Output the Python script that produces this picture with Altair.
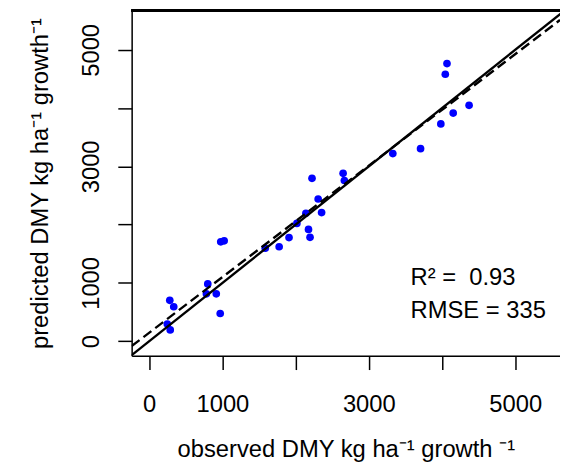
import altair as alt
import pandas as pd

# observed vs predicted dry matter yield (kg ha-1 growth-1)
observed = [247, 287, 281, 335, 781, 916, 800, 970, 977, 1024,
            1585, 1775, 1910, 2017, 2140, 2176, 2197, 2224, 2308, 2355,
            2649, 2666, 3328, 3707, 3984, 4153, 4370, 4045, 4068]
predicted = [294, 192, 701, 591, 812, 812, 982, 474, 1704, 1721,
             1595, 1620, 1778, 2021, 2195, 1918, 1782, 2795, 2440, 2207,
             2880, 2757, 3219, 3304, 3728, 3915, 4048, 4581, 4764]

tick_values = [0, 1000, 2000, 3000, 4000, 5000]
one_to_one = [-300, 6000]
stats_text = ["R\u00b2 =\u00a0 0.93", "RMSE = 335"]

X_DOMAIN = [-240, 5612]
Y_DOMAIN = [-250, 5676]
W, H = 433, 349
FONT = "Liberation Sans"

pts = pd.DataFrame({"obs": observed, "pred": predicted})
ident = pd.DataFrame({"obs": one_to_one, "pred": one_to_one})
ann = pd.DataFrame({"t": stats_text, "x": [3571, 3571], "y": [1091, 514]})

hide = "datum.value == 2000 || datum.value == 4000 ? '' : format(datum.value, 'd')"

xscale = alt.Scale(domain=X_DOMAIN, nice=False, zero=False)
yscale = alt.Scale(domain=Y_DOMAIN, nice=False, zero=False)

xaxis = alt.Axis(values=tick_values, labelExpr=hide, format="d", grid=False,
                 title="observed DMY kg ha\u207b\u00b9 growth \u207b\u00b9",
                 tickSize=14, tickWidth=1.5, tickColor="black",
                 domainColor="black", domainWidth=1.5,
                 labelFontSize=24, labelFont=FONT, labelColor="black", labelPadding=23,
                 titleFontSize=24, titleFont=FONT, titleColor="black",
                 titleFontWeight="normal", titlePadding=22)
yaxis = alt.Axis(values=tick_values, labelExpr=hide, format="d", grid=False,
                 title="predicted DMY kg ha\u207b\u00b9 growth\u207b\u00b9",
                 tickSize=14, tickWidth=1.5, tickColor="black",
                 domainColor="black", domainWidth=1.5,
                 labelAngle=270, labelAlign="center", labelBaseline="bottom",
                 labelFontSize=24, labelFont=FONT, labelColor="black", labelPadding=15,
                 titleFontSize=24, titleFont=FONT, titleColor="black",
                 titleFontWeight="normal", titlePadding=27)

points = alt.Chart(pts).mark_circle(size=60, color="#0000ff", opacity=1).encode(
    x=alt.X("obs:Q", scale=xscale, axis=xaxis),
    y=alt.Y("pred:Q", scale=yscale, axis=yaxis),
)

line11 = alt.Chart(ident).mark_line(color="black", strokeWidth=2.4, clip=True).encode(
    x=alt.X("obs:Q", scale=xscale), y=alt.Y("pred:Q", scale=yscale)
)

reg = alt.Chart(pts).transform_regression(
    "obs", "pred", extent=X_DOMAIN
).mark_line(color="black", strokeWidth=2.4, strokeDash=[10, 5], clip=True).encode(
    x=alt.X("obs:Q", scale=xscale), y=alt.Y("pred:Q", scale=yscale)
)

top_border = alt.Chart(pts).mark_rule(color="black", strokeWidth=1.5).encode(
    x=alt.value(0), x2=alt.value(W + 10), y=alt.value(0)
)

text = alt.Chart(ann).mark_text(align="left", baseline="middle", fontSize=24,
                                font=FONT, color="black").encode(
    x=alt.X("x:Q", scale=xscale), y=alt.Y("y:Q", scale=yscale), text="t:N"
)

chart = alt.layer(points, line11, reg, text, top_border).properties(
    width=W, height=H,
    autosize=alt.AutoSizeParams(type="none"),
    padding={"left": 125, "top": 0, "right": 0, "bottom": 108},
).configure_view(stroke=None).configure(background="white")

chart.save("out.html", embed_options={"renderer": "svg", "actions": False})
